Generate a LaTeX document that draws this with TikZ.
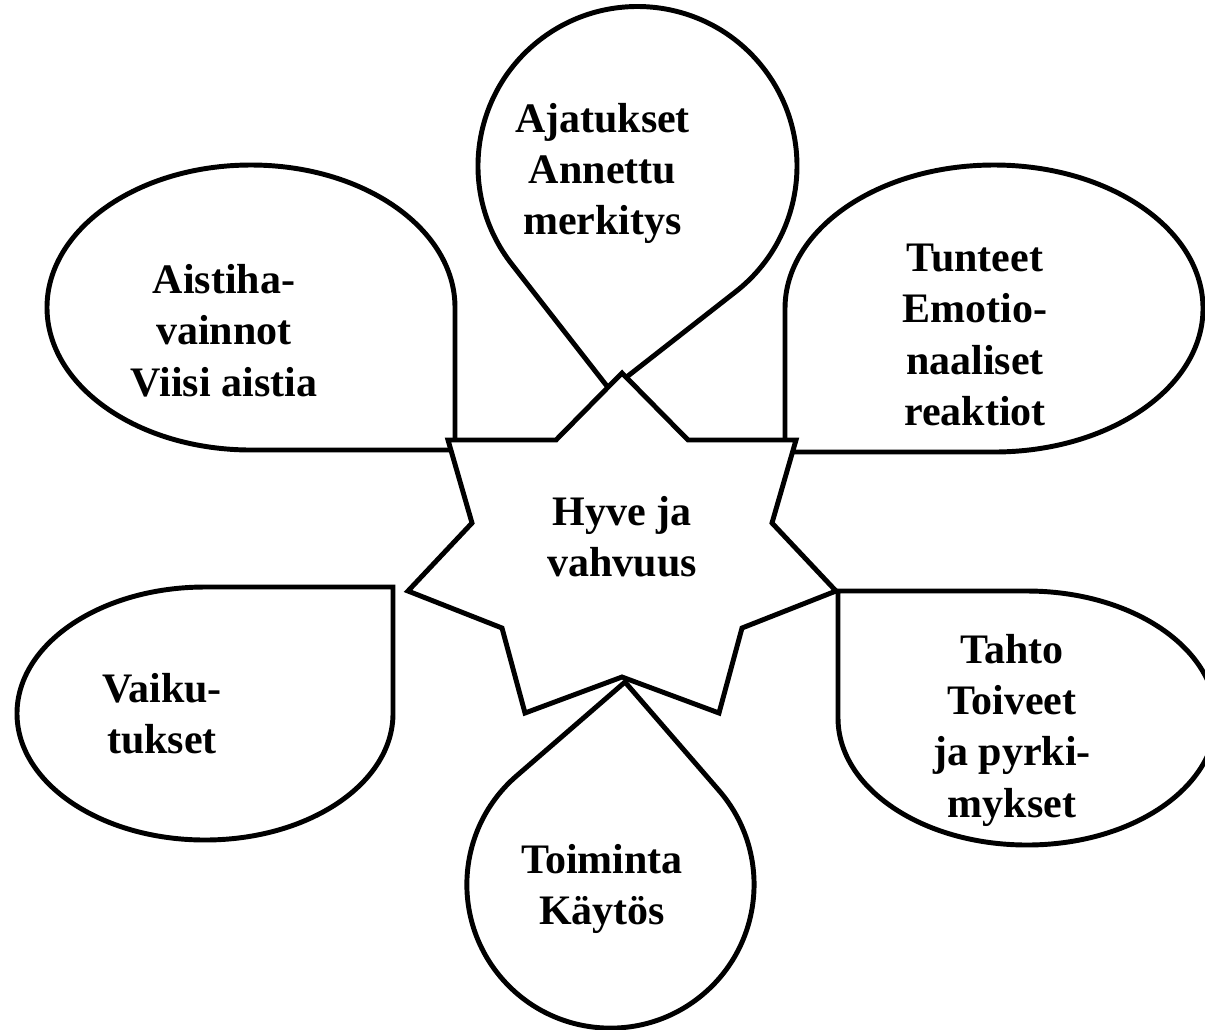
\documentclass[tikz,border=0pt]{standalone}
\usepackage{fontspec}
\setmainfont{Liberation Serif}
\begin{document}
\begin{tikzpicture}[x=0.75pt,y=-0.75pt,
  shapeline/.style={draw=black, line width=3.7pt, fill=white, line join=miter},
  lbl/.style={font=\bfseries\fontsize{31.5}{38.6}\selectfont, inner sep=0pt, anchor=base}]
\useasboundingbox (0,0) rectangle (1205,1029);
\clip (0,0) rectangle (1205,1029);
\fill[white] (0,0) rectangle (1205,1029);

% Aistihavainnot (square corner bottom-right)
\draw[shapeline] (455,307.5) -- (455,450) -- (251,450)
  arc[start angle=90,end angle=360,x radius=204,y radius=142.5] -- cycle;
% Tunteet (square corner bottom-left)
\draw[shapeline] (994,452) -- (785,452) -- (785,308.5)
  arc[start angle=180,end angle=450,x radius=209,y radius=143.5] -- cycle;
% Vaikutukset (square corner top-right)
\draw[shapeline] (205,587) -- (393,587) -- (393,713.5)
  arc[start angle=0,end angle=270,x radius=188,y radius=126.5] -- cycle;
% Tahto (square corner top-left)
\draw[shapeline] (838,718) -- (838,591) -- (1027,591)
  arc[start angle=270,end angle=540,x radius=189,y radius=127] -- cycle;
% Ajatukset (teardrop, tip down)
\coordinate (ajtip) at (610,390);
\draw[shapeline] (511.8,264.2)
  arc[start angle=142,end angle=412,radius=159.5] -- (ajtip) -- cycle;
% Toiminta (teardrop, tip up)
\coordinate (totip) at (625,682);
\draw[shapeline] (719,790.5)
  arc[start angle=319.1,end angle=589.1,radius=143.6] -- (totip) -- cycle;

% central 7-point star
\draw[shapeline] (622,373) -- (688,440) -- (796,440) -- (772,523) -- (836,591)
  -- (742,628) -- (719,713) -- (622,677) -- (525,713) -- (502,628)
  -- (408,591) -- (472,523) -- (448,440) -- (556,440) -- cycle;

% labels
\node[lbl] (aisti) at (224,293.5) {\begin{tabular}[t]{@{}c@{}}Aistiha-\\vainnot\\Viisi aistia\end{tabular}};
\node[lbl] (ajat) at (602.5,132) {\begin{tabular}[t]{@{}c@{}}Ajatukset\\Annettu\\merkitys\end{tabular}};
\node[lbl] (tunt) at (975,271.5) {\begin{tabular}[t]{@{}c@{}}Tunteet\\Emotio-\\naaliset\\reaktiot\end{tabular}};
\node[lbl] (hyve) at (622,525) {\begin{tabular}[t]{@{}c@{}}Hyve ja\\vahvuus\end{tabular}};
\node[lbl] (vaik) at (162,702) {\begin{tabular}[t]{@{}c@{}}Vaiku-\\tukset\end{tabular}};
\node[lbl] (tahto) at (1012,663) {\begin{tabular}[t]{@{}c@{}}Tahto\\Toiveet\\ja pyrki-\\mykset\end{tabular}};
\node[lbl] (toim) at (602,873) {\begin{tabular}[t]{@{}c@{}}Toiminta\\Käytös\end{tabular}};
\end{tikzpicture}
\end{document}
